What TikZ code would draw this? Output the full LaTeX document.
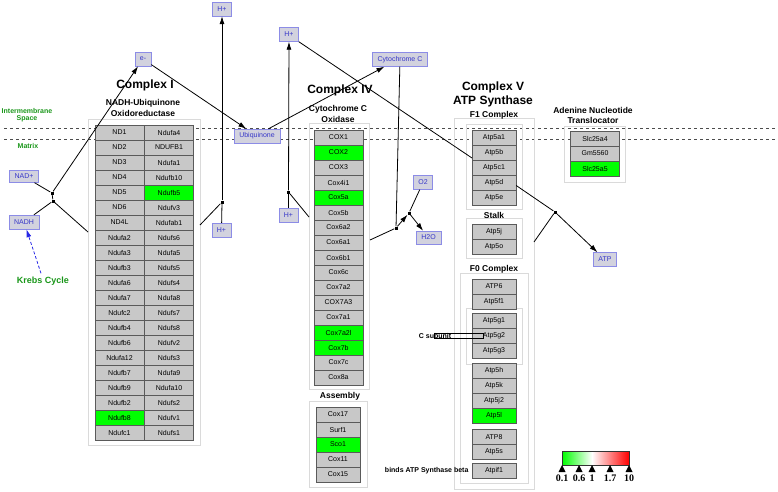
\documentclass[tikz,border=0pt]{standalone}
\usepackage{fontspec}
\setmainfont{Liberation Sans}
\newfontfamily\legendfont{Liberation Serif}
\usepackage{tikz}
\usetikzlibrary{
    arrows.meta,
    positioning,
    calc
}
\usepackage{xcolor}
\definecolor{cellgray}{RGB}{200,200,200}
\definecolor{celledge}{RGB}{90,90,90}
\definecolor{hitgreen}{RGB}{0,255,0}
\definecolor{metfill}{RGB}{210,210,222}
\definecolor{metedge}{RGB}{140,140,230}
\definecolor{mettext}{RGB}{55,55,200}
\definecolor{labgreen}{RGB}{25,150,25}
\definecolor{groupedge}{RGB}{218,218,218}
\definecolor{krebsblue}{RGB}{40,40,230}

\begin{document}
\begin{tikzpicture}[
        x=1pt, y=-1pt,
        >={Latex[length=8pt,width=5pt]},
        gene/.style={
            draw=celledge,
            fill=cellgray,
            minimum width=49pt,
            minimum height=15pt,
            inner sep=0pt,
            font=\fontsize{7}{8}\selectfont
        },
        hit/.style={gene, fill=hitgreen},
        narrow/.style={minimum width=44pt},
        metab/.style={
            draw=metedge,
            fill=metfill,
            text=mettext,
            inner xsep=5pt,
            inner ysep=0pt,
            minimum height=14pt,
            font=\fontsize{7}{8}\selectfont
        },
        grp/.style={draw=groupedge},
        anc/.style={fill=black, inner sep=0pt, minimum size=3pt},
        cxtitle/.style={font=\fontsize{12}{14}\selectfont\bfseries, align=center},
        subtitle/.style={font=\fontsize{8.5}{10.5}\selectfont\bfseries, align=center},
        zone/.style={text=labgreen, font=\fontsize{7}{8}\selectfont\bfseries, align=center},
        note/.style={font=\fontsize{7}{8}\selectfont\bfseries},
        legnum/.style={font=\legendfont\fontsize{10}{11}\selectfont\bfseries}
    ]
        \useasboundingbox (0,0) rectangle (778,491);

        % membrane
        \draw[dashed, gray!60!black] (4,128) -- (776,128);
        \draw[dashed, gray!60!black] (4,139) -- (776,139);
        \node[zone] (ims) at (27,115.5) {Intermembrane\\[-1pt]Space};
        \node[zone] (matrix) at (28,146) {Matrix};

        % group boxes
        \draw[grp] (88,119) rectangle (200,445);
        \draw[grp] (309,123) rectangle (369,389);
        \draw[grp] (309,401) rectangle (367,487);
        \draw[grp] (454,118) rectangle (534,489);
        \draw[grp] (466,124) rectangle (522,209);
        \draw[grp] (466,218) rectangle (522,258);
        \draw[grp] (460,273) rectangle (528,483);
        \draw[grp] (466,308) rectangle (522,364);
        \draw[grp] (564,126) rectangle (625,182);

        % titles
        \node[cxtitle] (t1) at (145,85) {Complex I};
        \node[subtitle] (t1b) at (143,108) {NADH-Ubiquinone\\Oxidoreductase};
        \node[cxtitle] (t4) at (340,90) {Complex IV};
        \node[subtitle] (t4b) at (338,114) {Cytochrome C\\Oxidase};
        \node[subtitle] (t4c) at (340,396) {Assembly};
        \node[cxtitle] (t5) at (493,94) {Complex V\\ATP Synthase};
        \node[subtitle] (t5b) at (494,115) {F1 Complex};
        \node[subtitle] (t5c) at (494,215) {Stalk};
        \node[subtitle] (t5d) at (494,269) {F0 Complex};
        \node[subtitle] (tant) at (593,115.5) {Adenine Nucleotide\\Translocator};

        % Complex I
        \node[gene] (nd1) at (119.5,132.5) {ND1};
        \node[gene] (nd2) at (119.5,147.5) {ND2};
        \node[gene] (nd3) at (119.5,162.5) {ND3};
        \node[gene] (nd4) at (119.5,177.5) {ND4};
        \node[gene] (nd5) at (119.5,192.5) {ND5};
        \node[gene] (nd6) at (119.5,207.5) {ND6};
        \node[gene] (nd4l) at (119.5,222.5) {ND4L};
        \node[gene] (ndufa2) at (119.5,237.5) {Ndufa2};
        \node[gene] (ndufa3) at (119.5,252.5) {Ndufa3};
        \node[gene] (ndufb3) at (119.5,267.5) {Ndufb3};
        \node[gene] (ndufa6) at (119.5,282.5) {Ndufa6};
        \node[gene] (ndufa7) at (119.5,297.5) {Ndufa7};
        \node[gene] (ndufc2) at (119.5,312.5) {Ndufc2};
        \node[gene] (ndufb4) at (119.5,327.5) {Ndufb4};
        \node[gene] (ndufb6) at (119.5,342.5) {Ndufb6};
        \node[gene] (ndufa12) at (119.5,357.5) {Ndufa12};
        \node[gene] (ndufb7) at (119.5,372.5) {Ndufb7};
        \node[gene] (ndufb9) at (119.5,387.5) {Ndufb9};
        \node[gene] (ndufb2) at (119.5,402.5) {Ndufb2};
        \node[hit] (ndufb8) at (119.5,417.5) {Ndufb8};
        \node[gene] (ndufc1) at (119.5,432.5) {Ndufc1};

        \node[gene] (ndufa4) at (169,132.5) {Ndufa4};
        \node[gene] (ndufb1) at (169,147.5) {NDUFB1};
        \node[gene] (ndufa1) at (169,162.5) {Ndufa1};
        \node[gene] (ndufb10) at (169,177.5) {Ndufb10};
        \node[hit] (ndufb5) at (169,192.5) {Ndufb5};
        \node[gene] (ndufv3) at (169,207.5) {Ndufv3};
        \node[gene] (ndufab1) at (169,222.5) {Ndufab1};
        \node[gene] (ndufs6) at (169,237.5) {Ndufs6};
        \node[gene] (ndufa5) at (169,252.5) {Ndufa5};
        \node[gene] (ndufs5) at (169,267.5) {Ndufs5};
        \node[gene] (ndufs4) at (169,282.5) {Ndufs4};
        \node[gene] (ndufa8) at (169,297.5) {Ndufa8};
        \node[gene] (ndufs7) at (169,312.5) {Ndufs7};
        \node[gene] (ndufs8) at (169,327.5) {Ndufs8};
        \node[gene] (ndufv2) at (169,342.5) {Ndufv2};
        \node[gene] (ndufs3) at (169,357.5) {Ndufs3};
        \node[gene] (ndufa9) at (169,372.5) {Ndufa9};
        \node[gene] (ndufa10) at (169,387.5) {Ndufa10};
        \node[gene] (ndufs2) at (169,402.5) {Ndufs2};
        \node[gene] (ndufv1) at (169,417.5) {Ndufv1};
        \node[gene] (ndufs1) at (169,432.5) {Ndufs1};

        % Complex IV
        \node[gene] (cox1) at (338.5,137.5) {COX1};
        \node[hit] (cox2) at (338.5,152.5) {COX2};
        \node[gene] (cox3) at (338.5,167.5) {COX3};
        \node[gene] (cox4i1) at (338.5,182.5) {Cox4i1};
        \node[hit] (cox5a) at (338.5,197.5) {Cox5a};
        \node[gene] (cox5b) at (338.5,212.5) {Cox5b};
        \node[gene] (cox6a2) at (338.5,227.5) {Cox6a2};
        \node[gene] (cox6a1) at (338.5,242.5) {Cox6a1};
        \node[gene] (cox6b1) at (338.5,257.5) {Cox6b1};
        \node[gene] (cox6c) at (338.5,272.5) {Cox6c};
        \node[gene] (cox7a2) at (338.5,287.5) {Cox7a2};
        \node[gene] (cox7a3) at (338.5,302.5) {COX7A3};
        \node[gene] (cox7a1) at (338.5,317.5) {Cox7a1};
        \node[hit] (cox7a2l) at (338.5,332.5) {Cox7a2l};
        \node[hit] (cox7b) at (338.5,347.5) {Cox7b};
        \node[gene] (cox7c) at (338.5,362.5) {Cox7c};
        \node[gene] (cox8a) at (338.5,377.5) {Cox8a};

        % assembly
        \node[gene, narrow] (cox17) at (338,414.5) {Cox17};
        \node[gene, narrow] (surf1) at (338,429.5) {Surf1};
        \node[hit, narrow] (sco1) at (338,444.5) {Sco1};
        \node[gene, narrow] (cox11) at (338,459.5) {Cox11};
        \node[gene, narrow] (cox15) at (338,474.5) {Cox15};

        % Complex V
        \node[gene, narrow] (atp5a1) at (494,137.5) {Atp5a1};
        \node[gene, narrow] (atp5b) at (494,152.5) {Atp5b};
        \node[gene, narrow] (atp5c1) at (494,167.5) {Atp5c1};
        \node[gene, narrow] (atp5d) at (494,182.5) {Atp5d};
        \node[gene, narrow] (atp5e) at (494,197.5) {Atp5e};
        \node[gene, narrow] (atp5j) at (494,231.5) {Atp5j};
        \node[gene, narrow] (atp5o) at (494,246.5) {Atp5o};
        \node[gene, narrow] (atp6) at (494,286.5) {ATP6};
        \node[gene, narrow] (atp5f1) at (494,301.5) {Atp5f1};
        \node[gene, narrow] (atp5g1) at (494,321) {Atp5g1};
        \node[gene, narrow] (atp5g2) at (494,336) {Atp5g2};
        \node[gene, narrow] (atp5g3) at (494,351) {Atp5g3};
        \node[gene, narrow] (atp5h) at (494,371) {Atp5h};
        \node[gene, narrow] (atp5k) at (494,386) {Atp5k};
        \node[gene, narrow] (atp5j2) at (494,401) {Atp5j2};
        \node[hit, narrow] (atp5l) at (494,416) {Atp5l};
        \node[gene, narrow] (atp8) at (494,437) {ATP8};
        \node[gene, narrow] (atp5s) at (494,452) {Atp5s};
        \node[gene, narrow] (atpif1) at (494,471) {Atpif1};

        \node[note] (csub) at (435,336) {C subunit};
        \draw (434,333) rectangle (483,338);
        \node[note, anchor=east] (bindnote) at (472,471) {binds ATP Synthase beta};

        % translocator
        \node[gene] (slc25a4) at (595,138.5) {Slc25a4};
        \node[gene] (gm5560) at (595,153.5) {Gm5560};
        \node[hit] (slc25a5) at (595,168.5) {Slc25a5};

        % metabolites
        \node[metab] (hpa) at (222,9) {H+};
        \node[metab] (em) at (143,59) {e-};
        \node[metab] (hpb) at (289,34.5) {H+};
        \node[metab] (cytc) at (400,59.5) {Cytochrome C};
        \node[metab] (ubq) at (257,136) {Ubiquinone};
        \node[metab, minimum height=12pt] (nadp) at (24,176.5) {NAD+};
        \node[metab] (nadh) at (24,222) {NADH};
        \node[metab] (hpc) at (221.5,230) {H+};
        \node[metab] (hpd) at (288.5,215) {H+};
        \node[metab] (o2) at (423,182.5) {O2};
        \node[metab, minimum height=13pt] (h2o) at (428.5,237.5) {H2O};
        \node[metab] (atp) at (605,259.5) {ATP};
        \node[text=labgreen, font=\fontsize{9}{10}\selectfont\bfseries] (krebs) at (43,281) {Krebs Cycle};

        % anchors
        \node[anc] (a1) at (52,193) {};
        \node[anc] (a2) at (53,201) {};
        \node[anc] (ah1) at (222,202) {};
        \node[anc] (ah2) at (288.5,192) {};
        \node[anc] (ac1) at (396,228) {};
        \node[anc] (ao) at (409,213) {};
        \node[anc] (aa) at (555,212) {};
        \coordinate (c1left) at (88,232);
        \coordinate (c1right) at (200,225);
        \coordinate (c4left) at (309,217);
        \coordinate (c4right) at (370,240);
        \coordinate (c5in) at (472,158);
        \coordinate (c5right) at (534,242);

        % connectors
        \draw[line width=0.8pt] (nadp) -- (a1);
        \draw[line width=0.8pt] (a1) -- (a2);
        \draw[line width=0.8pt] (nadh) -- (a2);
        \draw[line width=0.8pt] (a2) -- (c1left);
        \draw[->, line width=0.8pt] (a1) -- (em);
        \draw[->, line width=0.8pt] (em) -- (ubq);
        \draw[->, line width=0.8pt] ($(ubq.north)!0.5!(ubq.north east)$) -- ([xshift=12pt]cytc.south west);

        \draw[->, line width=0.8pt] (ah1) -- (hpa);
        \draw[line width=0.8pt] (ah1) -- (hpc);
        \draw[line width=0.8pt] (c1right) -- (ah1);

        \draw[->, line width=0.8pt] (ah2) -- (hpb);
        \draw[line width=0.8pt] (ah2) -- (hpd);
        \draw[line width=0.8pt] (c4left) -- (ah2);

        \draw[line width=0.8pt] (hpb.south east) -- (c5in);

        \draw[line width=0.8pt] (cytc) -- (ac1);
        \draw[line width=0.8pt] (c4right) -- (ac1);
        \draw[->, line width=0.8pt] (ac1) -- (ao);
        \draw[line width=0.8pt] (o2) -- (ao);
        \draw[->, line width=0.8pt] (ao) -- (h2o);

        \draw[line width=0.8pt] ([yshift=-3pt]atp5d.east) -- (aa);
        \draw[line width=0.8pt] (c5right) -- (aa);
        \draw[->, line width=0.8pt] (aa) -- (atp);

        \draw[->, krebsblue, line width=0.8pt, dash pattern=on 3pt off 2pt] ([xshift=-2pt]krebs.north) -- (nadh);

        % legend
        \shade[left color=hitgreen, right color=white] (562,451) rectangle (592,465);
        \shade[left color=white, right color=red] (592,451) rectangle (629,465);
        \draw[gray!40!black] (562,451) rectangle (629,465);
        \fill (562,465) -- (558.5,472) -- (565.5,472) -- cycle;
        \fill (579,465) -- (575.5,472) -- (582.5,472) -- cycle;
        \fill (592,465) -- (588.5,472) -- (595.5,472) -- cycle;
        \fill (610,465) -- (606.5,472) -- (613.5,472) -- cycle;
        \fill (629,465) -- (625.5,472) -- (632.5,472) -- cycle;
        \node[legnum] (l1) at (562,478.5) {0.1};
        \node[legnum] (l2) at (579,478.5) {0.6};
        \node[legnum] (l3) at (592,478.5) {1};
        \node[legnum] (l4) at (610,478.5) {1.7};
        \node[legnum] (l5) at (629,478.5) {10};
    \end{tikzpicture}
\end{document}
